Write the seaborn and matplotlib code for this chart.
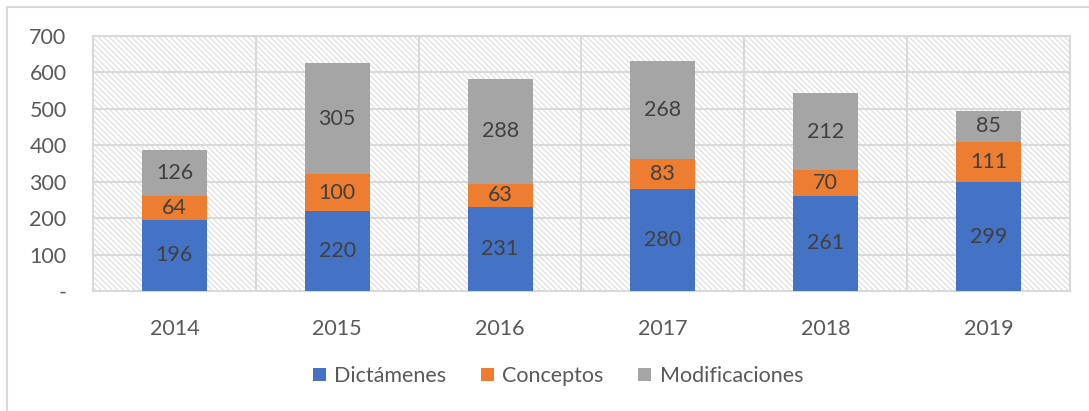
import matplotlib
matplotlib.use("Agg")
import matplotlib.pyplot as plt
import seaborn as sns
import pandas as pd
import numpy as np
from matplotlib.patches import Rectangle
from matplotlib.lines import Line2D

years = ["2014", "2015", "2016", "2017", "2018", "2019"]
dictamenes = [196, 220, 231, 280, 261, 299]
conceptos = [64, 100, 63, 83, 70, 111]
modificaciones = [126, 305, 288, 268, 212, 85]
series_names = ["Dictámenes", "Conceptos", "Modificaciones"]
colors = ["#4472C4", "#ED7D31", "#A5A5A5"]
yticks = [0, 100, 200, 300, 400, 500, 600, 700]
ytick_labels = ["-", "100", "200", "300", "400", "500", "600", "700"]

sns.set_theme(style="white")
plt.rcParams["font.family"] = ["Lato", "DejaVu Sans"]
plt.rcParams["hatch.color"] = "#d8d8d8"
plt.rcParams["hatch.linewidth"] = 0.7

FS = 15.5

fig = plt.figure(figsize=(10.89, 4.11), dpi=100)
ax = fig.add_axes([93 / 1089, 1 - 291 / 411, (1070 - 93) / 1089, (291 - 36) / 411])

d = np.array(dictamenes)
c = np.array(conceptos)
m = np.array(modificaciones)
df = pd.DataFrame({
    "year": years,
    "top": d + c + m,
    "mid": d + c,
    "bot": d,
})

# hatched background
ax.add_patch(Rectangle((0, 0), 1, 1, transform=ax.transAxes, facecolor="white",
                       edgecolor="#d8d8d8", linewidth=0, hatch="\\" * 6, zorder=0))

for col, color in zip(["top", "mid", "bot"], colors[::-1]):
    sns.barplot(data=df, x="year", y=col, color=color, width=0.4, ax=ax,
                saturation=1, zorder=3, edgecolor="none", linewidth=0)

ax.set_ylim(0, 700)
ax.set_xlim(-0.5, 5.5)
ax.set_yticks(yticks)
ax.set_yticklabels(ytick_labels)
ax.set_xlabel("")
ax.set_ylabel("")
ax.tick_params(axis="y", length=0, pad=19, labelsize=FS, labelcolor="#595959")
ax.tick_params(axis="x", length=0, pad=20, labelsize=FS, labelcolor="#595959")

for yv in yticks[1:]:
    ax.axhline(yv, color="#d9d9d9", lw=1.5, zorder=1)
for xv in np.arange(-0.5, 6, 1):
    ax.axvline(xv, color="#d9d9d9", lw=1.5, zorder=1)
for s in ax.spines.values():
    s.set_visible(True)
    s.set_color("#d9d9d9")
    s.set_linewidth(1.5)

# value labels
for i in range(len(years)):
    ax.text(i, d[i] / 2, str(d[i]), ha="center", va="center", fontsize=FS, color="#404040", zorder=5)
    ax.text(i, d[i] + c[i] / 2, str(c[i]), ha="center", va="center", fontsize=FS, color="#404040", zorder=5)
    ax.text(i, d[i] + c[i] + m[i] / 2, str(m[i]), ha="center", va="center", fontsize=FS, color="#404040", zorder=5)

handles = [Rectangle((0, 0), 1, 1, facecolor=col, edgecolor="none") for col in colors]
fig.legend(handles, series_names, loc="center", bbox_to_anchor=(558 / 1089, 1 - 376 / 411),
           ncol=3, frameon=False, fontsize=FS, labelcolor="#595959",
           handlelength=0.6, handleheight=0.6, handletextpad=0.4, columnspacing=1.6)

# chart frame (partial)
fig.add_artist(Line2D([7 / 1089, 7 / 1089], [0, 1 - 7 / 411], color="#d9d9d9", lw=1.5, transform=fig.transFigure))
fig.add_artist(Line2D([7 / 1089, 1], [1 - 7 / 411, 1 - 7 / 411], color="#d9d9d9", lw=1.5, transform=fig.transFigure))

fig.savefig("out.png", dpi=100)
